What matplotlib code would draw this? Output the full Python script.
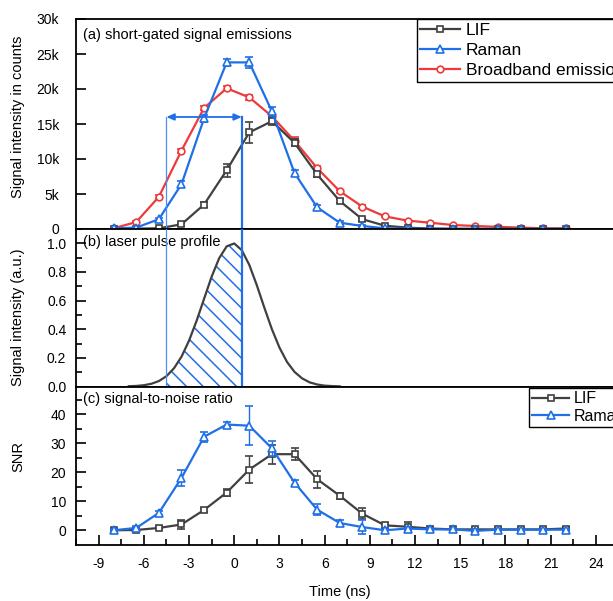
import matplotlib
matplotlib.use('Agg')
import matplotlib.pyplot as plt
from matplotlib.ticker import MultipleLocator, FuncFormatter

plt.rcParams['font.family'] = ['Liberation Sans', 'DejaVu Sans']
plt.rcParams['hatch.linewidth'] = 1.1
plt.rcParams['axes.unicode_minus'] = False

# ---------------- data ----------------
time_ns = [-8, -6.5, -5, -3.5, -2, -0.5, 1, 2.5, 4, 5.5, 7, 8.5, 10, 11.5, 13,
           14.5, 16, 17.5, 19, 20.5, 22]

lif_counts = [0, 50, 100, 670, 3500, 8400, 13800, 15400, 12300, 7800, 4000,
              1400, 470, 190, 60, 30, 20, 20, 10, 10, 10]
lif_err = [50, 50, 100, 200, 300, 900, 1500, 600, 500, 400, 300,
           200, 100, 80, 60, 50, 50, 50, 50, 50, 50]
raman_counts = [100, 200, 1400, 6400, 15800, 23800, 23800, 16800, 8000, 3100,
                900, 430, 100, 50, 30, 20, 10, 10, 10, 10, 10]
raman_err = [100, 100, 200, 400, 500, 500, 800, 600, 400, 400, 200,
             100, 80, 60, 50, 50, 50, 50, 50, 50, 50]
broad_counts = [100, 1000, 4600, 11200, 17300, 20100, 18800, 16100, 12600,
                8700, 5400, 3200, 1800, 1200, 900, 570, 430, 300, 200, 100, 100]
broad_err = [100, 200, 200, 300, 300, 300, 300, 400, 600, 300, 200,
             200, 100, 100, 80, 60, 50, 50, 50, 50, 50]

pulse_t = [-7, -6.5, -6, -5.5, -5, -4.5, -4, -3.5, -3, -2.5, -2, -1.5, -1,
           -0.5, 0, 0.5, 1, 1.5, 2, 2.5, 3, 3.5, 4, 4.5, 5, 5.5, 6, 6.5, 7]
pulse_int = [0.002, 0.004, 0.009, 0.019, 0.038, 0.072, 0.127, 0.208, 0.320,
             0.458, 0.613, 0.767, 0.896, 0.979, 0.999, 0.952, 0.849, 0.707,
             0.550, 0.400, 0.272, 0.172, 0.102, 0.057, 0.029, 0.014, 0.006,
             0.003, 0.001]
gate_start, gate_end = -4.5, 0.5
gate_level = 16000

lif_snr = [0, 0.1, 0.8, 2.0, 7.0, 13.0, 20.9, 26.2, 26.2, 17.6, 11.9, 5.7,
           1.7, 1.2, 0.6, 0.3, 0.3, 0.3, 0.3, 0.3, 0.6]
lif_snr_err = [0.3, 0.3, 0.5, 1.5, 0.7, 1.2, 4.6, 3.3, 2.0, 2.9, 1.0, 1.8,
               0.8, 1.5, 0.5, 0.4, 0.5, 0.4, 0.4, 0.4, 0.4]
raman_snr = [0, 0.8, 6.0, 18.0, 32.2, 36.4, 36.0, 28.2, 16.4, 7.1, 2.5, 1.1,
             0, 0.6, 0.3, 0.3, -0.2, 0.2, 0.2, 0.2, 0.2]
raman_snr_err = [0.3, 0.5, 0.8, 2.9, 1.7, 0.8, 6.8, 2.6, 0.8, 2.0, 1.0, 2.5,
                 0.8, 0.6, 0.5, 0.4, 0.8, 0.4, 0.4, 0.4, 0.4]

x_ticks = [-9, -6, -3, 0, 3, 6, 9, 12, 15, 18, 21, 24]

# ---------------- style ----------------
GRAY = '#404040'
BLUE = '#1f6fe6'
LBLUE = '#4f8ff0'
RED = '#ee3a3a'

W, H = 613, 601
fig = plt.figure(figsize=(W / 100, H / 100), dpi=100)

xlim = (-10.5, 27.0)
px_per_ns = 15.07
left_px = 76
right_px = left_px + (xlim[1] - xlim[0]) * px_per_ns


def add_axes(top_px, bot_px):
    return fig.add_axes([left_px / W, 1 - bot_px / H,
                         (right_px - left_px) / W, (bot_px - top_px) / H])


ax1 = add_axes(19, 229)
ax2 = add_axes(229, 386.5)
ax3 = add_axes(386.5, 544.5)

for ax in (ax1, ax2, ax3):
    ax.set_xlim(*xlim)
    for s in ax.spines.values():
        s.set_linewidth(1.3)
    ax.tick_params(which='both', direction='in', labelsize=10, width=1.2,
                   top=False, right=False)
    ax.tick_params(which='major', length=7)
    ax.tick_params(which='minor', length=4)
    ax.tick_params(axis='y', pad=7)
    ax.xaxis.set_major_locator(MultipleLocator(3))
    ax.xaxis.set_minor_locator(MultipleLocator(1.5))

for ax in (ax1, ax2):
    ax.tick_params(axis='x', which='both', bottom=False, labelbottom=False)
ax1.tick_params(axis='y', pad=12)

mk = dict(markerfacecolor='white', markeredgewidth=1.2, linewidth=1.6,
          elinewidth=1.0, capsize=3, capthick=1.0)

# ---------------- panel (a) ----------------
c_lif = ax1.errorbar(time_ns, lif_counts, yerr=lif_err, color=GRAY, marker='s',
                     markersize=4.5, zorder=3, **mk)
c_ram = ax1.errorbar(time_ns, raman_counts, yerr=raman_err, color=BLUE,
                     marker='^', markersize=6, zorder=4, **mk)
c_brd = ax1.errorbar(time_ns, broad_counts, yerr=broad_err, color=RED,
                     marker='o', markersize=4.8, zorder=2, **mk)
ax1.set_ylim(0, 30000)
ax1.yaxis.set_major_locator(MultipleLocator(5000))
ax1.yaxis.set_major_formatter(FuncFormatter(
    lambda v, p: '0' if v == 0 else f'{int(v / 1000)}k'))
ax1.text(0.012, 0.955, '(a) short-gated signal emissions', transform=ax1.transAxes,
         fontsize=10.5, va='top', ha='left')

# gate bracket
ax1.plot([gate_start, gate_start], [0, gate_level], color=LBLUE, lw=0.9,
         clip_on=False, zorder=5)
ax1.plot([gate_end, gate_end], [0, gate_level], color=BLUE, lw=1.6,
         clip_on=False, zorder=5)
ax1.annotate('', xy=(gate_start, gate_level), xytext=(gate_end, gate_level),
             arrowprops=dict(arrowstyle='<|-|>,head_length=0.45,head_width=0.2',
                             color=BLUE, lw=1.3, shrinkA=0, shrinkB=0,
                             mutation_scale=10), zorder=6)

leg1 = ax1.legend([c_lif[0], c_ram[0], c_brd[0]],
                  ['LIF', 'Raman', 'Broadband emission'],
                  loc='upper left', bbox_to_anchor=(417 / W, 1 - 19 / H),
                  bbox_transform=fig.transFigure, fontsize=12.5, frameon=True,
                  fancybox=False, edgecolor='black', framealpha=1,
                  borderaxespad=0, handlelength=2.3, handletextpad=0.3,
                  borderpad=0.2, labelspacing=0.3, numpoints=1)
leg1.get_frame().set_linewidth(1.0)

# ---------------- panel (b) ----------------
ax2.plot(pulse_t, pulse_int, color=GRAY, lw=1.6, zorder=3)
sel_t = [t for t in pulse_t if gate_start <= t <= gate_end]
sel_v = [v for t, v in zip(pulse_t, pulse_int) if gate_start <= t <= gate_end]
ax2.fill_between(sel_t, 0, sel_v, facecolor='none', edgecolor=BLUE,
                 hatch='\\\\', linewidth=0, zorder=2)
ax2.axvline(gate_start, color=LBLUE, lw=0.9, zorder=4)
ax2.axvline(gate_end, color=BLUE, lw=1.6, zorder=4)
ax2.set_ylim(0, 1.1)
ax2.yaxis.set_major_locator(MultipleLocator(0.2))
ax2.yaxis.set_minor_locator(MultipleLocator(0.1))
ax2.yaxis.set_major_formatter(FuncFormatter(lambda v, p: f'{v:.1f}'))
ax2.text(0.012, 0.965, '(b) laser pulse profile', transform=ax2.transAxes,
         fontsize=10.5, va='top', ha='left')

# ---------------- panel (c) ----------------
s_lif = ax3.errorbar(time_ns, lif_snr, yerr=lif_snr_err, color=GRAY, marker='s',
                     markersize=4.5, zorder=3, **mk)
s_ram = ax3.errorbar(time_ns, raman_snr, yerr=raman_snr_err, color=BLUE,
                     marker='^', markersize=6, zorder=4, **mk)
ax3.set_ylim(-4.9, 49.5)
ax3.yaxis.set_major_locator(MultipleLocator(10))
ax3.yaxis.set_minor_locator(MultipleLocator(5))
ax3.set_xticks(x_ticks)
ax3.tick_params(axis='x', pad=9)
ax3.text(0.012, 0.965, '(c) signal-to-noise ratio', transform=ax3.transAxes,
         fontsize=10.5, va='top', ha='left')

leg3 = ax3.legend([s_lif[0], s_ram[0]], ['LIF', 'Raman'],
                  loc='upper left', bbox_to_anchor=(529 / W, 1 - 388 / H),
                  bbox_transform=fig.transFigure, fontsize=11.5, frameon=True,
                  fancybox=False, edgecolor='black', framealpha=1,
                  borderaxespad=0, handlelength=2.3, handletextpad=0.3,
                  borderpad=0.2, labelspacing=0.15, numpoints=1)
leg3.get_frame().set_linewidth(1.0)

# axis labels
fig.text(18 / W, 1 - 117 / H, 'Signal intensity in counts', rotation=90,
         ha='center', va='center', fontsize=10.5)
fig.text(18 / W, 1 - 317 / H, 'Signal intensity (a.u.)', rotation=90,
         ha='center', va='center', fontsize=10.5)
fig.text(18 / W, 1 - 457 / H, 'SNR', rotation=90,
         ha='center', va='center', fontsize=10.5)
fig.text(340 / W, 1 - 592 / H, 'Time (ns)', ha='center', va='center',
         fontsize=10.5)

fig.savefig('out.png', dpi=100)
